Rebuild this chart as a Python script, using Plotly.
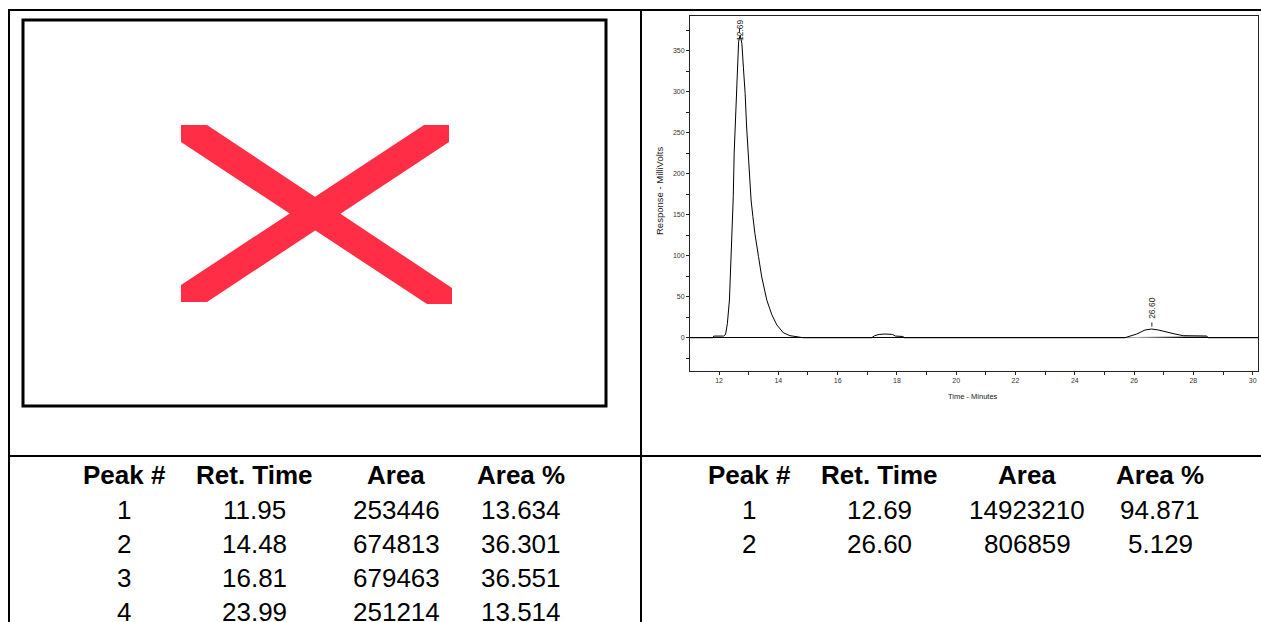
import plotly.graph_objects as go

# ---------------- data ----------------
# chromatogram trace (time in minutes, response in mV)
CHROM_TIME = [11.02, 11.80, 11.82, 12.15, 12.22, 12.28, 12.35, 12.40, 12.46, 12.48,
              12.51, 12.55, 12.60, 12.63, 12.66, 12.71, 12.77, 12.82, 12.88, 12.93,
              12.99, 13.05, 13.08, 13.14, 13.21, 13.33, 13.44, 13.61, 13.78, 13.95,
              14.17, 14.39, 14.62, 14.84, 17.15, 17.25, 17.40, 17.60, 17.85, 17.95,
              18.20, 18.25, 25.69, 26.09, 26.37, 26.59, 26.82, 27.10, 27.38, 27.66,
              28.00, 28.45, 28.50, 30.18]
CHROM_MV = [0, 0, 2, 2, 4, 17, 46, 87, 148, 172,
            225, 265, 302, 339, 361, 369, 359, 330, 298, 257,
            221, 184, 168, 148, 127, 99, 74, 46, 28, 15.5,
            6, 2.5, 1, 0, 0, 2.5, 4, 4.5, 4, 2,
            1.5, 0, 0, 4.5, 9.4, 10.6, 9.4, 6.5, 4.5, 2.5,
            2, 2, 0, 0]
# integration baseline under the second peak
BASE_TIME = [25.69, 28.45]
BASE_MV = [0, 2]

# tables
TABLE_HEADERS = ["Peak #", "Ret. Time", "Area", "Area %"]
LEFT_PEAK = ["1", "2", "3", "4"]
LEFT_RT = ["11.95", "14.48", "16.81", "23.99"]
LEFT_AREA = ["253446", "674813", "679463", "251214"]
LEFT_PCT = ["13.634", "36.301", "36.551", "13.514"]
RIGHT_PEAK = ["1", "2"]
RIGHT_RT = ["12.69", "26.60"]
RIGHT_AREA = ["14923210", "806859"]
RIGHT_PCT = ["94.871", "5.129"]

X_TICKS = [12, 14, 16, 18, 20, 22, 24, 26, 28, 30]
Y_TICKS = [0, 50, 100, 150, 200, 250, 300, 350]

# ---------------- layout helpers ----------------
W, H = 1261, 622
FONT = "Liberation Sans, Arial, sans-serif"


def PX(x):
    return x / W


def PY(y):
    return 1 - y / H


fig = go.Figure()

fig.add_trace(go.Scatter(x=BASE_TIME, y=BASE_MV, mode="lines",
                         line=dict(color="#b0b0b0", width=1), hoverinfo="skip",
                         showlegend=False))
fig.add_trace(go.Scatter(x=CHROM_TIME, y=CHROM_MV, mode="lines",
                         line=dict(color="black", width=1), showlegend=False))

shapes = []
annotations = []

# table grid lines
def hline(y, x0, x1, w=2):
    shapes.append(dict(type="line", xref="paper", yref="paper",
                       x0=PX(x0), x1=PX(x1), y0=PY(y), y1=PY(y),
                       line=dict(color="black", width=w)))


def vline(x, y0, y1, w=2):
    shapes.append(dict(type="line", xref="paper", yref="paper",
                       x0=PX(x), x1=PX(x), y0=PY(y0), y1=PY(y1),
                       line=dict(color="black", width=w)))


hline(10, 8, W)
hline(456, 8, W)
vline(9, 9, H)
vline(641, 9, H)

# placeholder image: black frame with a red cross
shapes.append(dict(type="rect", xref="paper", yref="paper",
                   x0=PX(23), x1=PX(606), y0=PY(406), y1=PY(20),
                   line=dict(color="black", width=3), fillcolor="rgba(0,0,0,0)"))


def poly(pts):
    return "M " + " L ".join(f"{PX(a):.5f},{PY(b):.5f}" for a, b in pts) + " Z"


RED = "#FF2D45"
shapes.append(dict(type="path", xref="paper", yref="paper",
                   path=poly([(181, 125), (207, 125), (452, 288), (452, 304), (427, 304), (181, 142)]),
                   fillcolor=RED, line=dict(width=0)))
shapes.append(dict(type="path", xref="paper", yref="paper",
                   path=poly([(424, 125), (449, 125), (449, 142), (207, 302), (181, 302), (181, 285)]),
                   fillcolor=RED, line=dict(width=0)))

# peak labels on the chromatogram
Y_TOP = 392.7
for rt in RIGHT_RT:
    t = float(rt)
    apex = max(v for tt, v in zip(CHROM_TIME, CHROM_MV) if abs(tt - t) < 0.5)
    lab_y = min(apex + 11, 360)
    annotations.append(dict(x=t, y=lab_y, xref="x", yref="y", text=rt,
                            textangle=-90, showarrow=False, xanchor="center",
                            yanchor="bottom", font=dict(family=FONT, size=8.5, color="#222"),
                            borderpad=0))
    shapes.append(dict(type="line", xref="x", yref="y", x0=t, x1=t,
                       y0=apex + 3, y1=apex + 8, line=dict(color="#222", width=1)))

# axis titles
annotations.append(dict(x=PX(973), y=PY(396), xref="paper", yref="paper",
                        text="Time - Minutes", showarrow=False, xanchor="center",
                        yanchor="middle", font=dict(family=FONT, size=7.5, color="#222")))
annotations.append(dict(x=PX(660), y=PY(191), xref="paper", yref="paper",
                        text="Response - MilliVolts", showarrow=False, textangle=-90,
                        xanchor="center", yanchor="middle",
                        font=dict(family=FONT, size=9.5, color="#222")))

# tables
ROW_Y = [510, 544, 578, 612]


def table(cols_x, columns):
    for cx, h in zip(cols_x, TABLE_HEADERS):
        annotations.append(dict(x=PX(cx), y=PY(475), xref="paper", yref="paper",
                                text=f"<b>{h}</b>", showarrow=False, xanchor="center",
                                yanchor="middle", font=dict(family=FONT, size=26, color="black")))
    for cx, col in zip(cols_x, columns):
        for ry, val in zip(ROW_Y, col):
            annotations.append(dict(x=PX(cx), y=PY(ry), xref="paper", yref="paper",
                                    text=val, showarrow=False, xanchor="center",
                                    yanchor="middle", font=dict(family=FONT, size=26, color="black")))


table([124, 254, 396, 521], [LEFT_PEAK, LEFT_RT, LEFT_AREA, LEFT_PCT])
table([749, 879, 1027, 1160], [RIGHT_PEAK, RIGHT_RT, RIGHT_AREA, RIGHT_PCT])

axis_common = dict(showgrid=False, showline=True, linecolor="#222", linewidth=1,
                   mirror=True, ticks="outside", ticklen=3, tickcolor="#222",
                   tickfont=dict(family=FONT, size=7, color="#333"))

fig.update_layout(
    width=W, height=H, autosize=False,
    margin=dict(l=0, r=0, t=0, b=0),
    paper_bgcolor="white", plot_bgcolor="white",
    showlegend=False,
    xaxis=dict(domain=[PX(690), PX(1258)], range=[11.02, 30.18],
               tickmode="array", tickvals=X_TICKS, ticktext=[str(v) for v in X_TICKS],
               minor=dict(ticks="outside", ticklen=3, tickcolor="#222", dtick=1, tick0=0),
               zeroline=False, **axis_common),
    yaxis=dict(domain=[PY(371), PY(15.7)], range=[-40.6, Y_TOP],
               tickmode="array", tickvals=Y_TICKS, ticktext=[str(v) for v in Y_TICKS],
               minor=dict(ticks="outside", ticklen=3, tickcolor="#222", dtick=25, tick0=0),
               zeroline=True, zerolinecolor="black", zerolinewidth=1, **axis_common),
    shapes=shapes,
    annotations=annotations,
)

fig.write_html("out.html")
